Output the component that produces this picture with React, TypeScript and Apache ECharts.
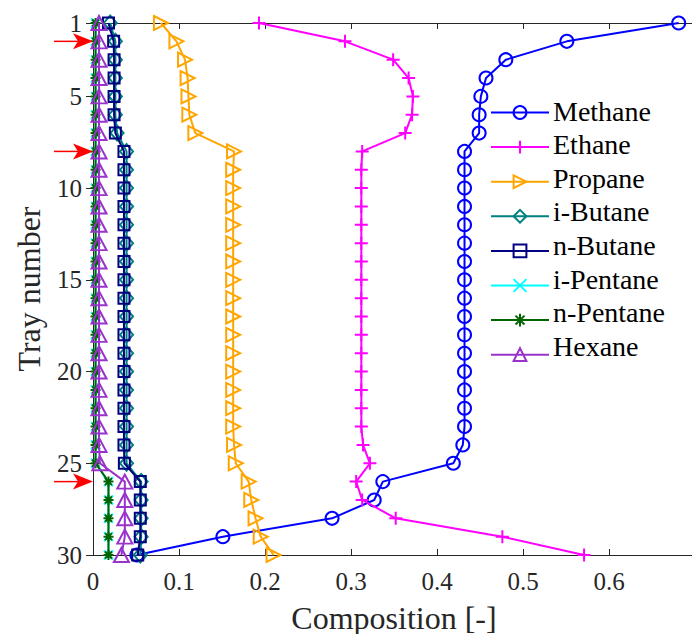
import React, { useEffect, useRef } from "react";
import * as echarts from "echarts";

const trays = [1, 2, 3, 4, 5, 6, 7, 8, 9, 10, 11, 12, 13, 14, 15, 16, 17, 18, 19, 20, 21, 22, 23, 24, 25, 26, 27, 28, 29, 30];

const methane = [0.681, 0.551, 0.48, 0.457, 0.451, 0.449, 0.449, 0.432, 0.432, 0.432, 0.432, 0.432, 0.432, 0.432, 0.432, 0.432, 0.432, 0.432, 0.432, 0.432, 0.432, 0.432, 0.432, 0.43, 0.419, 0.337, 0.327, 0.278, 0.151, 0.051];
const ethane = [0.193, 0.293, 0.349, 0.367, 0.372, 0.371, 0.363, 0.313, 0.312, 0.312, 0.312, 0.312, 0.312, 0.312, 0.312, 0.312, 0.312, 0.312, 0.312, 0.312, 0.312, 0.312, 0.312, 0.314, 0.322, 0.306, 0.313, 0.352, 0.476, 0.571];
const propane = [0.079, 0.097, 0.107, 0.11, 0.111, 0.112, 0.119, 0.164, 0.163, 0.163, 0.163, 0.163, 0.163, 0.163, 0.163, 0.163, 0.163, 0.163, 0.163, 0.163, 0.163, 0.163, 0.163, 0.164, 0.166, 0.181, 0.184, 0.189, 0.195, 0.21];
const iButane = [0.02, 0.026, 0.026, 0.026, 0.026, 0.026, 0.028, 0.039, 0.039, 0.039, 0.039, 0.039, 0.039, 0.039, 0.039, 0.039, 0.039, 0.039, 0.039, 0.039, 0.039, 0.039, 0.039, 0.039, 0.039, 0.056, 0.056, 0.056, 0.056, 0.055];
const nButane = [0.018, 0.024, 0.0245, 0.0245, 0.0245, 0.0245, 0.026, 0.036, 0.036, 0.036, 0.036, 0.036, 0.036, 0.036, 0.036, 0.036, 0.036, 0.036, 0.036, 0.036, 0.036, 0.036, 0.036, 0.036, 0.0365, 0.055, 0.055, 0.055, 0.055, 0.052];
const iPentane = [0.003, 0.003, 0.003, 0.003, 0.003, 0.003, 0.003, 0.003, 0.003, 0.003, 0.003, 0.003, 0.003, 0.003, 0.003, 0.003, 0.003, 0.003, 0.003, 0.003, 0.003, 0.003, 0.003, 0.003, 0.003, 0.018, 0.018, 0.018, 0.018, 0.018];
const nPentane = [0.003, 0.003, 0.003, 0.003, 0.003, 0.003, 0.003, 0.003, 0.003, 0.003, 0.003, 0.003, 0.003, 0.003, 0.003, 0.003, 0.003, 0.003, 0.003, 0.003, 0.003, 0.003, 0.003, 0.003, 0.003, 0.018, 0.018, 0.018, 0.018, 0.018];
const hexane = [0.007, 0.007, 0.007, 0.007, 0.007, 0.007, 0.007, 0.007, 0.007, 0.007, 0.007, 0.007, 0.007, 0.007, 0.007, 0.007, 0.007, 0.007, 0.007, 0.007, 0.007, 0.007, 0.007, 0.007, 0.008, 0.037, 0.037, 0.037, 0.037, 0.033];

const seriesNames = ["Methane", "Ethane", "Propane", "i-Butane", "n-Butane", "i-Pentane", "n-Pentane", "Hexane"];
const seriesValues = [methane, ethane, propane, iButane, nButane, iPentane, nPentane, hexane];
const seriesColors = ["#0000FF", "#FF00FF", "#FFA500", "#008080", "#000080", "#00FFFF", "#006400", "#9933CC"];
const seriesSymbols = [
  "circle",
  "path://M5,0L5,10M0,5L10,5",
  "path://M0,0L10,5L0,10Z",
  "diamond",
  "rect",
  "path://M0,0L10,10M10,0L0,10",
  "path://M5,0L5,10M0,5L10,5M1.5,1.5L8.5,8.5M8.5,1.5L1.5,8.5",
  "triangle",
];
const seriesSymbolSizes: any[] = [13, 13, [14, 14], [13, 15], 11, 9, 10, [15, 14]];

const xTickValues = [0, 0.1, 0.2, 0.3, 0.4, 0.5, 0.6];
const xTickLabels = ["0", "0.1", "0.2", "0.3", "0.4", "0.5", "0.6"];
const yTickValues = [1, 5, 10, 15, 20, 25, 30];
const yTickLabels = ["1", "5", "10", "15", "20", "25", "30"];
const xAxisTitle = "Composition [-]";
const yAxisTitle = "Tray number";
const arrowTrays = [2, 8, 26];

const FONT = "Liberation Serif";
const AXIS_COLOR = "#262626";
const TINY_RAD = 0.00007;

const LEGEND_LEFT = 490;
const LEGEND_TOP = 99;
const LEGEND_ITEM_W = 58;
const LEGEND_ROW = 33.6;

export default function App() {
  const ref = useRef<HTMLDivElement>(null);

  useEffect(() => {
    document.body.style.margin = "0";
    const chart = echarts.init(ref.current!, null, { renderer: "svg" });

    const series = seriesNames.map((name, i) => ({
      name,
      type: "line",
      data: trays.map((t, k) => [seriesValues[i][k], t]),
      symbol: seriesSymbols[i],
      symbolSize: seriesSymbolSizes[i],
      showAllSymbol: true,
      lineStyle: { color: seriesColors[i], width: 2 },
      itemStyle: { color: "none", borderColor: seriesColors[i], borderWidth: 2 },
      emphasis: { disabled: true },
      z: 2 + i,
    }));

    const baseX = {
      type: "value",
      min: 0,
      max: 0.7,
      interval: 0.1,
      splitLine: { show: false },
      axisLabel: { show: false },
      axisLine: { show: true, lineStyle: { color: AXIS_COLOR, width: 1 } },
      axisTick: { show: true, inside: true, length: 6, lineStyle: { color: AXIS_COLOR } },
    };
    const baseY = {
      type: "value",
      min: 1,
      max: 30,
      inverse: true,
      splitLine: { show: false },
      axisLabel: { show: false },
      axisLine: { show: true, lineStyle: { color: AXIS_COLOR, width: 1 } },
      axisTick: { show: true, inside: true, length: 7, customValues: yTickValues, lineStyle: { color: AXIS_COLOR } },
    };

    chart.setOption({
      animation: false,
      textStyle: { fontFamily: FONT },
      grid: { left: 93, top: 23, right: -3, bottom: 79, containLabel: false, outerBoundsMode: "none" },
      xAxis: [
        { ...baseX, position: "bottom" },
        { ...baseX, position: "top" },
      ],
      yAxis: [
        {
          ...baseY,
          position: "left",
          name: yAxisTitle,
          nameLocation: "middle",
          nameRotate: 90,
          nameGap: 48,
          nameTextStyle: { fontFamily: FONT, fontSize: 32, color: AXIS_COLOR },
        },
        { ...baseY, position: "right" },
      ],
      legend: {
        orient: "vertical",
        left: LEGEND_LEFT,
        top: LEGEND_TOP,
        padding: 0,
        itemWidth: LEGEND_ITEM_W,
        itemHeight: 16,
        itemGap: LEGEND_ROW - 26,
        formatter: () => " ",
        textStyle: { fontFamily: FONT, fontSize: 27, color: "#000", lineHeight: 26 },
        data: seriesNames,
      },
      series,
    });

    const xPix = (v: number) => chart.convertToPixel({ xAxisIndex: 0 }, v) as number;
    const yPix = (v: number) => chart.convertToPixel({ yAxisIndex: 0 }, v) as number;
    const xLeft = xPix(0);
    const xRight = xPix(0.7);
    const yBottom = yPix(30);

    const graphics: any[] = [];
    const addText = (text: string, x: number, y: number, size: number, align: string, vAlign: string, fill: string) => {
      graphics.push({
        type: "text",
        x,
        y,
        rotation: TINY_RAD,
        silent: true,
        z: 100,
        style: { text, fontFamily: FONT, fontSize: size, fill, textAlign: align, textVerticalAlign: vAlign },
      });
    };

    xTickValues.forEach((v, i) => addText(xTickLabels[i], xPix(v), yBottom + 14, 25, "center", "top", AXIS_COLOR));
    yTickValues.forEach((v, i) => addText(yTickLabels[i], xLeft - 11, yPix(v), 25, "right", "middle", AXIS_COLOR));
    addText(xAxisTitle, (xLeft + xRight) / 2, yBottom + 47, 32, "center", "top", AXIS_COLOR);

    arrowTrays.forEach((t) => {
      const y = yPix(t);
      graphics.push({
        type: "line",
        shape: { x1: xLeft - 39, y1: y, x2: xLeft - 14, y2: y },
        style: { stroke: "#FF0000", lineWidth: 1.5 },
        silent: true,
        z: 100,
      });
      graphics.push({
        type: "polygon",
        shape: {
          points: [
            [xLeft, y],
            [xLeft - 20, y - 8],
            [xLeft - 15, y],
            [xLeft - 20, y + 8],
          ],
        },
        style: { fill: "#FF0000" },
        silent: true,
        z: 100,
      });
    });

    seriesNames.forEach((name, i) =>
      addText(name, LEGEND_LEFT + LEGEND_ITEM_W + 5, LEGEND_TOP + 12 + i * LEGEND_ROW, 28, "left", "middle", "#000")
    );

    chart.setOption({ graphic: graphics });

    return () => chart.dispose();
  }, []);

  return (
    <div
      ref={ref}
      style={{ position: "fixed", left: 0, top: 0, width: 692, height: 634, background: "#fff" }}
    />
  );
}
